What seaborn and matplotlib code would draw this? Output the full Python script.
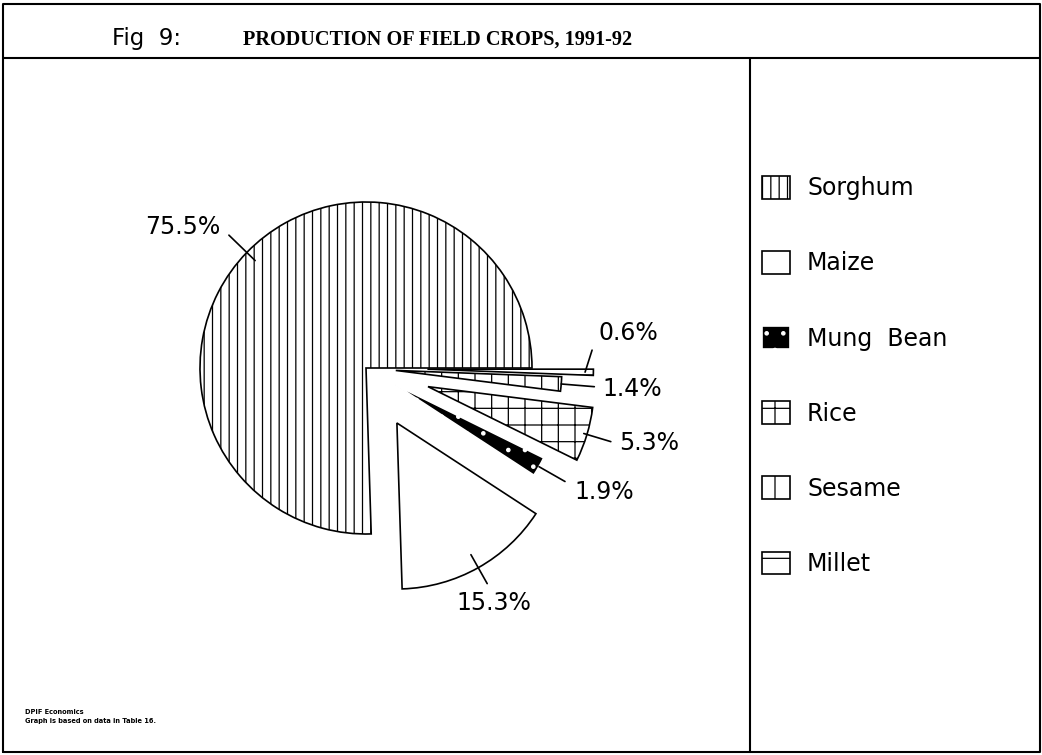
import numpy as np
import matplotlib
matplotlib.use("Agg")
import matplotlib.pyplot as plt
import seaborn as sns

# data (share of production, %)
crops = ["Sorghum", "Maize", "Mung  Bean", "Rice", "Sesame", "Millet"]
shares = [75.5, 15.3, 1.9, 5.3, 1.4, 0.6]
pct_labels = ["75.5%", "15.3%", "1.9%", "5.3%", "1.4%", "0.6%"]

# styling
hatches = ["||", "", ".", "+", "|", "-"]
faces = ["white", "white", "black", "white", "white", "white"]
explode = [0, 0.38, 0.2, 0.39, 0.18, 0.37]   # fraction of the radius

sns.set_theme(style="white")
plt.rcParams["font.family"] = ["DejaVu Sans"]
plt.rcParams["text.color"] = "black"
plt.rcParams["hatch.linewidth"] = 0.9

W, H = 1042, 755
R = 166
fig = plt.figure(figsize=(W / 100, H / 100), dpi=100)
ax = fig.add_axes([0, 0, 1, 1])

wedges, _ = ax.pie(shares, explode=[e * R for e in explode], startangle=0,
                   counterclock=True, center=(366, H - 368), radius=R,
                   wedgeprops=dict(edgecolor="black", linewidth=1.2))
for w, h, fc in zip(wedges, hatches, faces):
    w.set_facecolor(fc)
    w.set_hatch(h)
# white speckles on the black slice
if hasattr(wedges[2], "set_hatchcolor"):
    wedges[2].set_hatchcolor("white")
else:
    wedges[2].set_edgecolor("white")

ax.set_xlim(0, W)
ax.set_ylim(0, H)
ax.set_aspect("auto")
ax.axis("off")

# leader lines + percentage labels
lead = {0: (0.93, 1.15), 1: (0.91, 1.11), 2: (1.0, 1.18), 3: (0.98, 1.15), 4: (1.0, 1.2)}
txt_off = [(-46, 8), (7, -19), (39, -11), (38, -1), (38, -2), (36, 17)]
for i, w in enumerate(wedges):
    c = np.array(w.center)
    r = w.r
    t = np.deg2rad((w.theta1 + w.theta2) / 2)
    u = np.array([np.cos(t), np.sin(t)])
    if i == 5:
        p0 = c + 0.95 * r * u
        p1 = p0 + np.array([7, 22])
    else:
        a, b = lead[i]
        p0 = c + a * r * u
        p1 = c + b * r * u
    ax.plot([p0[0], p1[0]], [p0[1], p1[1]], color="black", lw=1.2)
    dx, dy = txt_off[i]
    ax.text(p1[0] + dx, p1[1] + dy, pct_labels[i], ha="center", va="center",
            fontsize=17)

# frame of the figure
ax.plot([3, 1040, 1040, 3, 3], [3, 3, H - 4, H - 4, 3], color="black", lw=1.5)
ax.plot([3, 1040], [H - 58, H - 58], color="black", lw=1.5)
ax.plot([750, 750], [3, H - 58], color="black", lw=1.5)

# title
ax.text(112, H - 45, "Fig  9:", fontsize=16.5, va="baseline")
ax.text(243, H - 45, "PRODUCTION OF FIELD CROPS, 1991-92", family="Liberation Serif",
        fontsize=14.6, weight="bold", va="baseline")

# footer
ax.text(25, H - 712, "DPIF Economics", fontsize=4.8, weight="bold", va="center")
ax.text(25, H - 721, "Graph is based on data in Table 16.", fontsize=4.8,
        weight="bold", va="center")

ax.legend(wedges, crops, loc="upper left", bbox_to_anchor=(762 / W, (H - 176) / H),
          bbox_transform=fig.transFigure, frameon=False, fontsize=17,
          handlelength=1.19, handleheight=1.1, handletextpad=0.72,
          labelspacing=2.15, borderpad=0, borderaxespad=0)

fig.savefig("out.png", dpi=100)
